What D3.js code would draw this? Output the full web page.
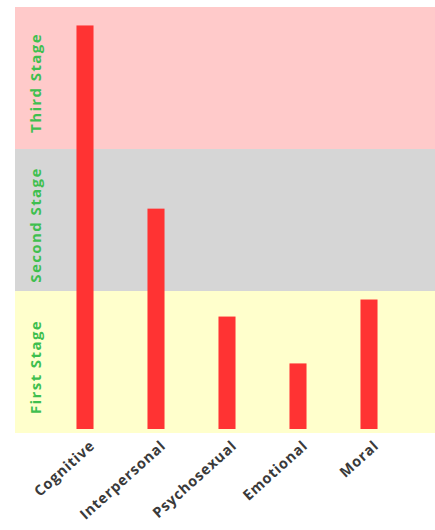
<!DOCTYPE html>
<html>
<head>
<meta charset="utf-8">
<script src="https://cdn.jsdelivr.net/npm/d3@7"></script>
<style>
  body { margin: 0; background: #fff; }
</style>
</head>
<body>
<svg id="chart" width="435" height="530"></svg>
<script>
// data, in "stage" units (1 unit = one stage band)
var categories = ["Cognitive", "Interpersonal", "Psychosexual", "Emotional", "Moral"]
var values = [2.87, 1.58, 0.82, 0.49, 0.94]
var stages = ["First Stage", "Second Stage", "Third Stage"]
var stageColors = ["#ffffcc", "#d6d6d6", "#ffcaca"]

var width = 435
var height = 530
var panel = { left: 15, right: 435, top: 7, bottom: 433 }

var svg = d3.select("#chart")

// y scale: 0..3 stages over the panel height
var y = d3.scaleLinear()
    .domain([0, stages.length])
    .range([panel.bottom, panel.top])

// x scale: one band per category
var x = d3.scaleBand()
    .domain(categories)
    .range([49.5, 404.5])
    .paddingInner(0.76)
    .paddingOuter(0.38)

// stage background bands
svg.append("g")
    .selectAll("rect")
    .data(stages)
    .enter()
    .append("rect")
    .attr("x", panel.left)
    .attr("width", panel.right - panel.left)
    .attr("y", (d, i) => y(i + 1))
    .attr("height", (d, i) => y(i) - y(i + 1))
    .style("fill", (d, i) => stageColors[i])

// stage labels, rotated along the left side
svg.append("g")
    .selectAll("text")
    .data(stages)
    .enter()
    .append("text")
    .attr("transform", (d, i) => "translate(35," + ((y(i) + y(i + 1)) / 2 + 5) + ") rotate(-90)")
    .attr("text-anchor", "middle")
    .attr("dominant-baseline", "central")
    .style("font-family", "'Open Sans', sans-serif")
    .style("font-size", "15px")
    .style("font-weight", "bold")
    .style("letter-spacing", "1.4px")
    .style("fill", "#3fbf4f")
    .text((d) => d)

// bars (sit a few px above the panel bottom)
var base = y(0) - 4
svg.append("g")
    .selectAll("rect")
    .data(values)
    .enter()
    .append("rect")
    .attr("x", (d, i) => x(categories[i]))
    .attr("width", x.bandwidth())
    .attr("y", (d) => y(d))
    .attr("height", (d) => base - y(d))
    .style("fill", "#ff3333")

// category labels, slanted under each bar
svg.append("g")
    .selectAll("text")
    .data(categories)
    .enter()
    .append("text")
    .attr("transform", (d) => "translate(" + (x(d) + x.bandwidth() / 2 + 7) + "," + (panel.bottom + 10) + ") rotate(-42)")
    .attr("text-anchor", "end")
    .attr("dominant-baseline", "central")
    .style("font-family", "'Open Sans', sans-serif")
    .style("font-size", "14.5px")
    .style("font-weight", "bold")
    .style("letter-spacing", "0.8px")
    .style("fill", "#3a3a3a")
    .text((d) => d)
</script>
</body>
</html>
